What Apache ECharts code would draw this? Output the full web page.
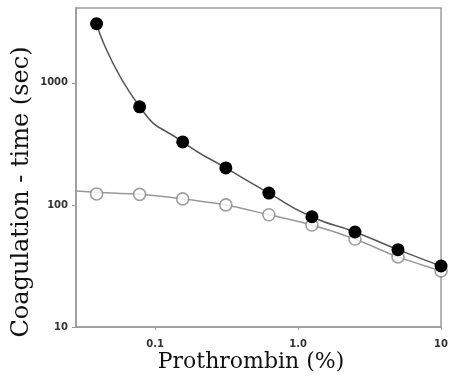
<!DOCTYPE html>
<html>
<head>
<meta charset="utf-8">
<script src="https://cdn.jsdelivr.net/npm/echarts@6/dist/echarts.min.js"></script>
<style>
  html, body { margin: 0; padding: 0; background: #fff; }
  #chart { width: 451px; height: 387px; }
</style>
</head>
<body>
<div id="chart"></div>
<script>
// Prothrombin concentration (%) — doubling dilution series
var prothrombin = [0.039, 0.078, 0.156, 0.3125, 0.625, 1.25, 2.5, 5, 10];

// Coagulation time (sec), filled symbols
var timeFilled = [3050, 636, 328, 201, 125, 80, 60, 43, 31.6];

// Coagulation time (sec), open symbols
var timeOpen = [123, 122, 112, 100, 83, 68.5, 52.6, 37.5, 28.8];

// Fitted curve for the open series, continued to the left edge of the plot
var openFitX = [0.028, 0.039, 0.078, 0.156, 0.3125, 0.625, 1.25, 2.5, 5, 10];
var openFitY = [130, 127, 122, 112, 100, 83, 68.5, 52.6, 37.5, 28.8];

// Axis ranges and tick labels (by decade exponent)
var xRange = [0.028, 10];
var yRange = [10, 4100];
var xTickLabels = { '-1': '0.1', '0': '1.0', '1': '10' };
var yTickLabels = { '1': '10', '2': '100', '3': '1000' };

function pairs(xs, ys) {
  return xs.map(function (x, i) { return [x, ys[i]]; });
}
function decadeLabel(table) {
  return function (v) {
    var e = Math.log10(v);
    var r = Math.round(e);
    if (Math.abs(e - r) > 1e-6) return '';
    return table[String(r)] || '';
  };
}

var chart = echarts.init(document.getElementById('chart'), null, { renderer: 'canvas' });

var tickFont = { fontFamily: 'DejaVu Sans', fontSize: 10, fontWeight: 'bold', color: '#333' };

chart.setOption({
  animation: false,
  backgroundColor: '#fff',
  grid: {
    left: 76, top: 8, right: 6, bottom: 60,
    show: true, borderColor: '#9a9a9a', borderWidth: 1.5, backgroundColor: 'transparent'
  },
  xAxis: {
    type: 'log', logBase: 10, min: xRange[0], max: xRange[1],
    axisLine: { lineStyle: { color: '#9a9a9a', width: 1.5 } },
    axisTick: { show: true, length: 3, lineStyle: { color: '#9a9a9a' } },
    splitLine: { show: false },
    minorTick: { show: false },
    axisLabel: Object.assign({ margin: 12, showMinLabel: false, formatter: decadeLabel(xTickLabels) }, tickFont)
  },
  yAxis: {
    type: 'log', logBase: 10, min: yRange[0], max: yRange[1],
    axisLine: { lineStyle: { color: '#9a9a9a', width: 1.5 } },
    axisTick: { show: true, length: 4, lineStyle: { color: '#9a9a9a' } },
    splitLine: { show: false },
    axisLabel: Object.assign({ margin: 8, showMaxLabel: false, formatter: decadeLabel(yTickLabels) }, tickFont)
  },
  graphic: [
    {
      type: 'text',
      x: 22, y: 192, rotation: Math.PI / 2,
      style: {
        text: 'Coagulation - time (sec)',
        font: '24px "DejaVu Serif"', fill: '#111',
        align: 'center', verticalAlign: 'middle'
      }
    },
    {
      type: 'text',
      x: 251, y: 362,
      style: {
        text: 'Prothrombin (%)',
        font: '22px "DejaVu Serif"', fill: '#111',
        align: 'center', verticalAlign: 'middle'
      }
    }
  ],
  series: [
    {
      name: 'fit-open', type: 'line', smooth: 0.3, symbol: 'none',
      data: pairs(openFitX, openFitY),
      lineStyle: { color: '#999', width: 1.5 }, z: 2
    },
    {
      name: 'fit-filled', type: 'line', smooth: 0.6, symbol: 'none',
      data: pairs(prothrombin, timeFilled),
      lineStyle: { color: '#555', width: 1.5 }, z: 2
    },
    {
      name: 'open', type: 'scatter', symbol: 'circle', symbolSize: 12,
      data: pairs(prothrombin, timeOpen),
      itemStyle: { color: '#fff', borderColor: '#888', borderWidth: 1.6 }, z: 3
    },
    {
      name: 'filled', type: 'scatter', symbol: 'circle', symbolSize: 13,
      data: pairs(prothrombin, timeFilled),
      itemStyle: { color: '#000', opacity: 1 }, z: 4
    }
  ]
});
</script>
</body>
</html>
